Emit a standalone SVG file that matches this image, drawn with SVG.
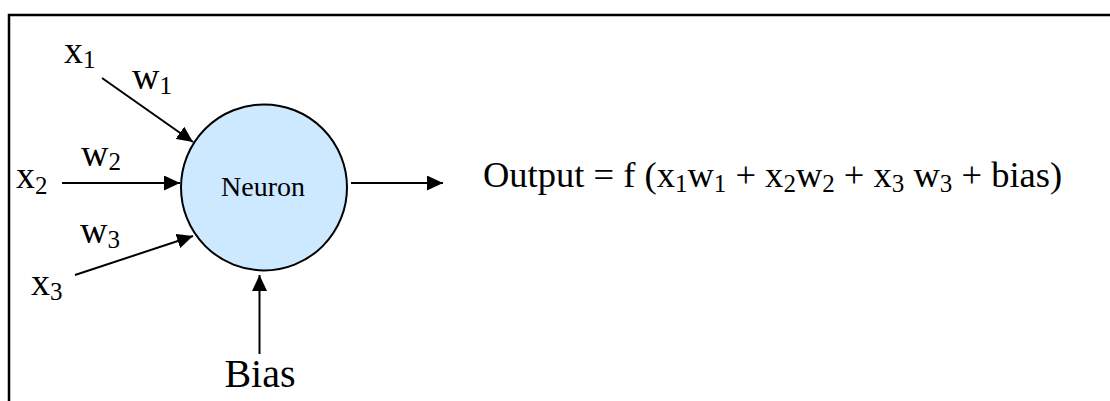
<svg xmlns="http://www.w3.org/2000/svg" width="1110" height="401" viewBox="0 0 1110 401">
<style>
text{font-family:"Liberation Serif","Times New Roman",serif;fill:#000}
.lab{font-size:38px}
.sub{font-size:25px}
.out{font-size:36.5px}
.conn{stroke:#000;stroke-width:2;fill:none}
</style>
<defs>
<marker id="ah" markerUnits="userSpaceOnUse" markerWidth="17" markerHeight="15" refX="16" refY="7.5" orient="auto">
<path d="M0,0 L16,7.5 L0,15 z" fill="#000"/>
</marker>
</defs>
<rect x="9" y="15" width="1200" height="500" fill="#fff" stroke="#000" stroke-width="2.5"/>
<g id="connectors">
<line class="conn" x1="102" y1="78" x2="193" y2="142" marker-end="url(#ah)"/>
<line class="conn" x1="62" y1="183" x2="180" y2="183" marker-end="url(#ah)"/>
<line class="conn" x1="75" y1="275" x2="193" y2="236" marker-end="url(#ah)"/>
<line class="conn" x1="351" y1="183" x2="443" y2="183" marker-end="url(#ah)"/>
<line class="conn" x1="259.5" y1="354" x2="259.5" y2="275" marker-end="url(#ah)"/>
</g>
<g id="neuron">
<circle cx="264" cy="187.4" r="83" fill="#cce9ff" stroke="#000" stroke-width="2"/>
<text x="263" y="196" font-size="28" text-anchor="middle">Neuron</text>
</g>
<g id="x1"><text class="lab" x="64" y="63">x<tspan class="sub" dy="5">1</tspan></text></g>
<g id="w1"><text class="lab" x="132" y="89">w<tspan class="sub" dy="5">1</tspan></text></g>
<g id="x2"><text class="lab" x="16" y="188">x<tspan class="sub" dy="6">2</tspan></text></g>
<g id="w2"><text class="lab" x="81" y="166">w<tspan class="sub" dy="4">2</tspan></text></g>
<g id="w3"><text class="lab" x="80" y="243">w<tspan class="sub" dy="5">3</tspan></text></g>
<g id="x3"><text class="lab" x="31" y="295">x<tspan class="sub" dy="5">3</tspan></text></g>
<g id="bias"><text x="260" y="387" font-size="40" text-anchor="middle">Bias</text></g>
<g id="output"><text class="out" x="483" y="187">Output = f (x<tspan class="sub" dy="5">1</tspan><tspan dy="-5">w</tspan><tspan class="sub" dy="5">1</tspan><tspan dy="-5"> + x</tspan><tspan class="sub" dy="5">2</tspan><tspan dy="-5">w</tspan><tspan class="sub" dy="5">2</tspan><tspan dy="-5"> + x</tspan><tspan class="sub" dy="5">3</tspan><tspan dy="-5"> w</tspan><tspan class="sub" dy="5">3</tspan><tspan dy="-5"> + bias)</tspan></text></g>
</svg>
